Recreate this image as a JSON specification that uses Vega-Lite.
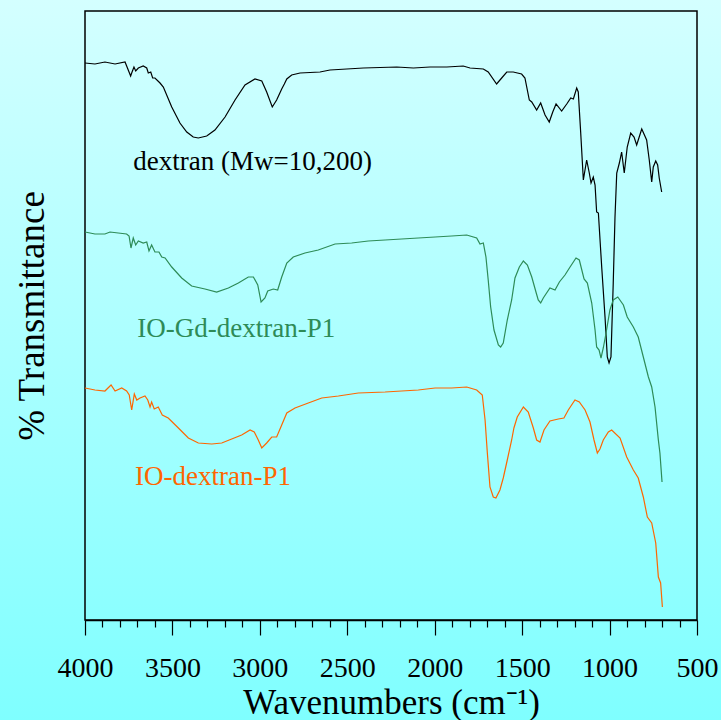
{
  "$schema": "https://vega.github.io/schema/vega-lite/v6.json",
  "width": 612,
  "height": 609,
  "autosize": {"type": "none"},
  "padding": {"left": 85, "top": 11, "right": 24, "bottom": 100},
  "background": "#a9ffff",
  "config": {"view": {"stroke": null}, "font": "Liberation Serif"},
  "datasets": {
    "spectra": [
      {"s":"d","w":4000,"v":55.7},{"s":"d","w":3943,"v":55.6},{"s":"d","w":3886,"v":55.8},{"s":"d","w":3828,"v":55.6},{"s":"d","w":3771,"v":55.8},
      {"s":"d","w":3739,"v":54.4},{"s":"d","w":3733,"v":54.7},{"s":"d","w":3720,"v":55.3},{"s":"d","w":3710,"v":54.9},{"s":"d","w":3695,"v":55.2},
      {"s":"d","w":3667,"v":55.4},{"s":"d","w":3647,"v":55.2},{"s":"d","w":3638,"v":54.7},{"s":"d","w":3624,"v":54.8},{"s":"d","w":3613,"v":54.2},
      {"s":"d","w":3600,"v":54.2},{"s":"d","w":3571,"v":53.7},{"s":"d","w":3552,"v":53.3},{"s":"d","w":3504,"v":51.3},{"s":"d","w":3457,"v":49.7},
      {"s":"d","w":3418,"v":48.8},{"s":"d","w":3381,"v":48.3},{"s":"d","w":3352,"v":48.2},{"s":"d","w":3304,"v":48.4},{"s":"d","w":3257,"v":49.0},
      {"s":"d","w":3199,"v":50.3},{"s":"d","w":3142,"v":52.0},{"s":"d","w":3085,"v":53.5},{"s":"d","w":3028,"v":54.1},{"s":"d","w":2989,"v":53.9},
      {"s":"d","w":2961,"v":52.8},{"s":"d","w":2929,"v":51.3},{"s":"d","w":2904,"v":52.0},{"s":"d","w":2875,"v":53.1},{"s":"d","w":2860,"v":53.6},
      {"s":"d","w":2846,"v":54.1},{"s":"d","w":2818,"v":54.5},{"s":"d","w":2770,"v":54.7},{"s":"d","w":2656,"v":54.8},{"s":"d","w":2599,"v":55.0},
      {"s":"d","w":2503,"v":55.1},{"s":"d","w":2408,"v":55.2},{"s":"d","w":2217,"v":55.3},{"s":"d","w":2122,"v":55.2},{"s":"d","w":2027,"v":55.3},
      {"s":"d","w":1931,"v":55.3},{"s":"d","w":1837,"v":55.4},{"s":"d","w":1798,"v":55.2},{"s":"d","w":1722,"v":55.1},{"s":"d","w":1694,"v":54.8},
      {"s":"d","w":1646,"v":53.6},{"s":"d","w":1617,"v":54.2},{"s":"d","w":1588,"v":54.8},{"s":"d","w":1551,"v":54.8},{"s":"d","w":1503,"v":54.6},
      {"s":"d","w":1484,"v":54.2},{"s":"d","w":1459,"v":52.0},{"s":"d","w":1445,"v":51.8},{"s":"d","w":1417,"v":51.0},{"s":"d","w":1394,"v":51.7},
      {"s":"d","w":1369,"v":50.5},{"s":"d","w":1345,"v":49.8},{"s":"d","w":1325,"v":50.8},{"s":"d","w":1306,"v":51.6},{"s":"d","w":1274,"v":50.9},
      {"s":"d","w":1245,"v":51.6},{"s":"d","w":1222,"v":52.2},{"s":"d","w":1207,"v":52.1},{"s":"d","w":1188,"v":53.2},{"s":"d","w":1179,"v":52.8},
      {"s":"d","w":1165,"v":48.7},{"s":"d","w":1150,"v":44.0},{"s":"d","w":1131,"v":46.0},{"s":"d","w":1116,"v":44.7},{"s":"d","w":1106,"v":43.7},
      {"s":"d","w":1093,"v":44.3},{"s":"d","w":1083,"v":43.5},{"s":"d","w":1074,"v":40.8},{"s":"d","w":1064,"v":40.7},{"s":"d","w":1045,"v":35.3},
      {"s":"d","w":1026,"v":30.3},{"s":"d","w":1013,"v":26.3},{"s":"d","w":1003,"v":25.7},{"s":"d","w":992,"v":26.3},{"s":"d","w":979,"v":33.7},
      {"s":"d","w":969,"v":40.3},{"s":"d","w":959,"v":44.7},{"s":"d","w":944,"v":45.7},{"s":"d","w":931,"v":46.8},{"s":"d","w":916,"v":44.7},
      {"s":"d","w":899,"v":47.3},{"s":"d","w":879,"v":48.7},{"s":"d","w":860,"v":48.3},{"s":"d","w":845,"v":47.5},{"s":"d","w":816,"v":49.1},
      {"s":"d","w":788,"v":48.0},{"s":"d","w":773,"v":46.0},{"s":"d","w":759,"v":43.8},{"s":"d","w":750,"v":45.3},{"s":"d","w":736,"v":45.9},
      {"s":"d","w":725,"v":45.5},{"s":"d","w":716,"v":44.2},{"s":"d","w":702,"v":42.8},

      {"s":"g","w":4000,"v":38.8},{"s":"g","w":3943,"v":38.6},{"s":"g","w":3886,"v":38.6},{"s":"g","w":3857,"v":38.8},{"s":"g","w":3810,"v":38.7},
      {"s":"g","w":3762,"v":38.6},{"s":"g","w":3748,"v":38.4},{"s":"g","w":3737,"v":37.2},{"s":"g","w":3724,"v":38.2},{"s":"g","w":3710,"v":37.5},
      {"s":"g","w":3695,"v":37.9},{"s":"g","w":3667,"v":37.7},{"s":"g","w":3647,"v":37.8},{"s":"g","w":3634,"v":36.9},{"s":"g","w":3619,"v":37.5},
      {"s":"g","w":3600,"v":36.8},{"s":"g","w":3577,"v":36.8},{"s":"g","w":3561,"v":36.3},{"s":"g","w":3542,"v":36.2},{"s":"g","w":3504,"v":35.3},
      {"s":"g","w":3447,"v":34.2},{"s":"g","w":3390,"v":33.4},{"s":"g","w":3314,"v":33.1},{"s":"g","w":3247,"v":32.8},{"s":"g","w":3180,"v":33.2},
      {"s":"g","w":3123,"v":33.7},{"s":"g","w":3066,"v":34.3},{"s":"g","w":3037,"v":34.3},{"s":"g","w":3012,"v":33.5},{"s":"g","w":2993,"v":31.8},
      {"s":"g","w":2971,"v":32.2},{"s":"g","w":2955,"v":32.9},{"s":"g","w":2923,"v":33.1},{"s":"g","w":2898,"v":33.0},{"s":"g","w":2875,"v":34.3},
      {"s":"g","w":2846,"v":35.7},{"s":"g","w":2809,"v":36.3},{"s":"g","w":2742,"v":36.7},{"s":"g","w":2666,"v":37.0},{"s":"g","w":2570,"v":37.6},
      {"s":"g","w":2475,"v":37.7},{"s":"g","w":2380,"v":37.9},{"s":"g","w":2284,"v":38.0},{"s":"g","w":2189,"v":38.1},{"s":"g","w":2094,"v":38.2},
      {"s":"g","w":1998,"v":38.3},{"s":"g","w":1903,"v":38.4},{"s":"g","w":1817,"v":38.5},{"s":"g","w":1798,"v":38.4},{"s":"g","w":1760,"v":38.2},
      {"s":"g","w":1741,"v":37.6},{"s":"g","w":1722,"v":37.7},{"s":"g","w":1707,"v":36.3},{"s":"g","w":1694,"v":34.0},{"s":"g","w":1680,"v":31.3},
      {"s":"g","w":1661,"v":29.0},{"s":"g","w":1636,"v":27.5},{"s":"g","w":1623,"v":27.3},{"s":"g","w":1608,"v":27.7},{"s":"g","w":1585,"v":30.0},
      {"s":"g","w":1560,"v":32.0},{"s":"g","w":1541,"v":34.2},{"s":"g","w":1516,"v":35.3},{"s":"g","w":1493,"v":35.9},{"s":"g","w":1470,"v":35.5},
      {"s":"g","w":1445,"v":34.3},{"s":"g","w":1421,"v":32.8},{"s":"g","w":1408,"v":32.0},{"s":"g","w":1394,"v":31.7},{"s":"g","w":1379,"v":32.2},
      {"s":"g","w":1341,"v":33.2},{"s":"g","w":1312,"v":33.0},{"s":"g","w":1287,"v":33.8},{"s":"g","w":1255,"v":34.5},{"s":"g","w":1226,"v":35.3},
      {"s":"g","w":1192,"v":36.2},{"s":"g","w":1173,"v":36.0},{"s":"g","w":1146,"v":34.1},{"s":"g","w":1127,"v":33.7},{"s":"g","w":1102,"v":31.7},
      {"s":"g","w":1083,"v":29.0},{"s":"g","w":1074,"v":27.3},{"s":"g","w":1060,"v":27.0},{"s":"g","w":1049,"v":26.2},{"s":"g","w":1036,"v":27.2},
      {"s":"g","w":1020,"v":28.7},{"s":"g","w":998,"v":31.0},{"s":"g","w":979,"v":32.0},{"s":"g","w":953,"v":32.3},{"s":"g","w":921,"v":31.5},
      {"s":"g","w":899,"v":30.3},{"s":"g","w":864,"v":29.3},{"s":"g","w":836,"v":28.3},{"s":"g","w":807,"v":26.3},{"s":"g","w":778,"v":24.3},
      {"s":"g","w":759,"v":23.3},{"s":"g","w":740,"v":21.3},{"s":"g","w":721,"v":18.0},{"s":"g","w":712,"v":16.7},{"s":"g","w":700,"v":13.8},

      {"s":"o","w":4000,"v":23.2},{"s":"o","w":3943,"v":23.0},{"s":"o","w":3886,"v":22.9},{"s":"o","w":3851,"v":23.5},{"s":"o","w":3828,"v":22.9},
      {"s":"o","w":3790,"v":23.2},{"s":"o","w":3762,"v":22.9},{"s":"o","w":3747,"v":22.5},{"s":"o","w":3733,"v":21.0},{"s":"o","w":3718,"v":22.6},
      {"s":"o","w":3704,"v":22.0},{"s":"o","w":3685,"v":22.2},{"s":"o","w":3657,"v":22.4},{"s":"o","w":3641,"v":22.0},{"s":"o","w":3628,"v":21.3},
      {"s":"o","w":3619,"v":21.8},{"s":"o","w":3604,"v":21.1},{"s":"o","w":3581,"v":21.3},{"s":"o","w":3558,"v":20.5},{"s":"o","w":3524,"v":20.2},
      {"s":"o","w":3466,"v":19.2},{"s":"o","w":3409,"v":18.2},{"s":"o","w":3352,"v":17.7},{"s":"o","w":3275,"v":17.6},{"s":"o","w":3218,"v":17.7},
      {"s":"o","w":3161,"v":18.1},{"s":"o","w":3104,"v":18.5},{"s":"o","w":3056,"v":19.0},{"s":"o","w":3032,"v":18.8},{"s":"o","w":3009,"v":18.0},
      {"s":"o","w":2989,"v":17.2},{"s":"o","w":2961,"v":17.7},{"s":"o","w":2932,"v":18.3},{"s":"o","w":2904,"v":18.3},{"s":"o","w":2875,"v":19.5},
      {"s":"o","w":2846,"v":20.7},{"s":"o","w":2799,"v":21.2},{"s":"o","w":2723,"v":21.7},{"s":"o","w":2646,"v":22.2},{"s":"o","w":2551,"v":22.4},
      {"s":"o","w":2437,"v":22.7},{"s":"o","w":2284,"v":22.8},{"s":"o","w":2189,"v":22.9},{"s":"o","w":2094,"v":23.0},{"s":"o","w":1998,"v":23.2},
      {"s":"o","w":1903,"v":23.2},{"s":"o","w":1817,"v":23.3},{"s":"o","w":1798,"v":23.2},{"s":"o","w":1760,"v":23.0},{"s":"o","w":1728,"v":22.5},
      {"s":"o","w":1712,"v":20.0},{"s":"o","w":1699,"v":16.7},{"s":"o","w":1684,"v":13.3},{"s":"o","w":1665,"v":12.3},{"s":"o","w":1650,"v":12.2},
      {"s":"o","w":1627,"v":13.0},{"s":"o","w":1608,"v":14.2},{"s":"o","w":1585,"v":16.0},{"s":"o","w":1560,"v":18.0},{"s":"o","w":1547,"v":19.2},
      {"s":"o","w":1528,"v":20.3},{"s":"o","w":1493,"v":21.3},{"s":"o","w":1465,"v":20.8},{"s":"o","w":1436,"v":19.2},{"s":"o","w":1417,"v":18.0},
      {"s":"o","w":1398,"v":17.8},{"s":"o","w":1375,"v":19.0},{"s":"o","w":1341,"v":19.9},{"s":"o","w":1293,"v":20.1},{"s":"o","w":1261,"v":20.2},
      {"s":"o","w":1236,"v":21.0},{"s":"o","w":1198,"v":22.0},{"s":"o","w":1173,"v":21.8},{"s":"o","w":1140,"v":21.0},{"s":"o","w":1112,"v":19.8},
      {"s":"o","w":1089,"v":18.0},{"s":"o","w":1070,"v":16.7},{"s":"o","w":1055,"v":17.1},{"s":"o","w":1036,"v":18.0},{"s":"o","w":1007,"v":18.8},
      {"s":"o","w":988,"v":19.0},{"s":"o","w":940,"v":18.2},{"s":"o","w":902,"v":16.3},{"s":"o","w":864,"v":15.0},{"s":"o","w":836,"v":14.2},
      {"s":"o","w":807,"v":12.3},{"s":"o","w":784,"v":10.3},{"s":"o","w":759,"v":9.7},{"s":"o","w":736,"v":7.7},{"s":"o","w":721,"v":4.3},
      {"s":"o","w":708,"v":3.7},{"s":"o","w":698,"v":1.3}
    ],
    "labels": [
      {"t":"dextran (Mw=10,200)","s":"d","w":3724,"v":45.0},
      {"t":"IO-Gd-dextran-P1","s":"g","w":3701,"v":28.3},
      {"t":"IO-dextran-P1","s":"o","w":3714,"v":13.5}
    ]
  },
  "layer": [
    {
      "data": {"values": [{}]},
      "mark": {
        "type": "rect",
        "clip": false,
        "fill": {"gradient": "linear", "x1": 0, "y1": 0, "x2": 0, "y2": 1,
          "stops": [{"offset": 0, "color": "#d4ffff"}, {"offset": 1, "color": "#7fffff"}]}
      },
      "encoding": {
        "x": {"datum": 4492, "type": "quantitative", "scale": {"domain": [500, 4000], "reverse": true, "nice": false, "zero": false}},
        "x2": {"datum": 357},
        "y": {"datum": -10.1, "type": "quantitative", "scale": {"domain": [0, 60.9], "nice": false, "zero": false}},
        "y2": {"datum": 62.1}
      }
    },
    {
      "data": {"values": [{}]},
      "mark": {"type": "rect", "filled": false, "stroke": "#000000", "strokeWidth": 1.5},
      "encoding": {
        "x": {"datum": 4000, "type": "quantitative", "scale": {"domain": [500, 4000], "reverse": true, "nice": false, "zero": false}},
        "x2": {"datum": 500},
        "y": {"datum": 0, "type": "quantitative", "scale": {"domain": [0, 60.9], "nice": false, "zero": false}},
        "y2": {"datum": 60.9}
      }
    },
    {
      "data": {"name": "spectra"},
      "mark": {"type": "line", "strokeWidth": 1.2},
      "encoding": {
        "x": {"field": "w", "type": "quantitative",
          "scale": {"domain": [500, 4000], "reverse": true, "nice": false, "zero": false},
          "axis": {
            "zindex": 1,
            "values": [4000,3900,3800,3700,3600,3500,3400,3300,3200,3100,3000,2900,2800,2700,2600,2500,2400,2300,2200,2100,2000,1900,1800,1700,1600,1500,1400,1300,1200,1100,1000,900,800,700,600,500],
            "tickCount": 200,
            "format": "d",
            "labelExpr": "datum.value % 500 === 0 ? datum.label : ''",
            "tickSize": {"condition": {"test": "datum.value % 500 === 0", "value": 15}, "value": 7},
            "tickColor": "#000000", "tickWidth": 1.2,
            "domainColor": "#000000", "domainWidth": 1.5,
            "grid": false, "labelOverlap": false, "labelFlush": false,
            "labelFontSize": 28, "labelColor": "#000000", "labelPadding": 19,
            "labelFont": "Liberation Serif",
            "title": "Wavenumbers (cm⁻¹)", "titleFontSize": 35, "titleFontWeight": "normal",
            "titleColor": "#000000", "titlePadding": 3, "titleFont": "Liberation Serif"
          }},
        "y": {"field": "v", "type": "quantitative",
          "scale": {"domain": [0, 60.9], "nice": false, "zero": false},
          "axis": {
            "zindex": 1,
            "domain": false, "ticks": false, "labels": false, "grid": false,
            "title": "% Transmittance", "titleFontSize": 37, "titleFontWeight": "normal",
            "titleColor": "#000000", "titlePadding": 34, "titleFont": "Liberation Serif"
          }},
        "color": {"field": "s", "type": "nominal",
          "scale": {"domain": ["d", "g", "o"], "range": ["#000000", "#2e8b57", "#ff6600"]},
          "legend": null}
      }
    },
    {
      "data": {"name": "labels"},
      "mark": {"type": "text", "align": "left", "baseline": "alphabetic", "fontSize": 27, "font": "Liberation Serif"},
      "encoding": {
        "x": {"field": "w", "type": "quantitative", "scale": {"domain": [500, 4000], "reverse": true, "nice": false, "zero": false}},
        "y": {"field": "v", "type": "quantitative", "scale": {"domain": [0, 60.9], "nice": false, "zero": false}},
        "text": {"field": "t"},
        "color": {"field": "s", "type": "nominal",
          "scale": {"domain": ["d", "g", "o"], "range": ["#000000", "#2e8b57", "#ff6600"]},
          "legend": null}
      }
    }
  ]
}
